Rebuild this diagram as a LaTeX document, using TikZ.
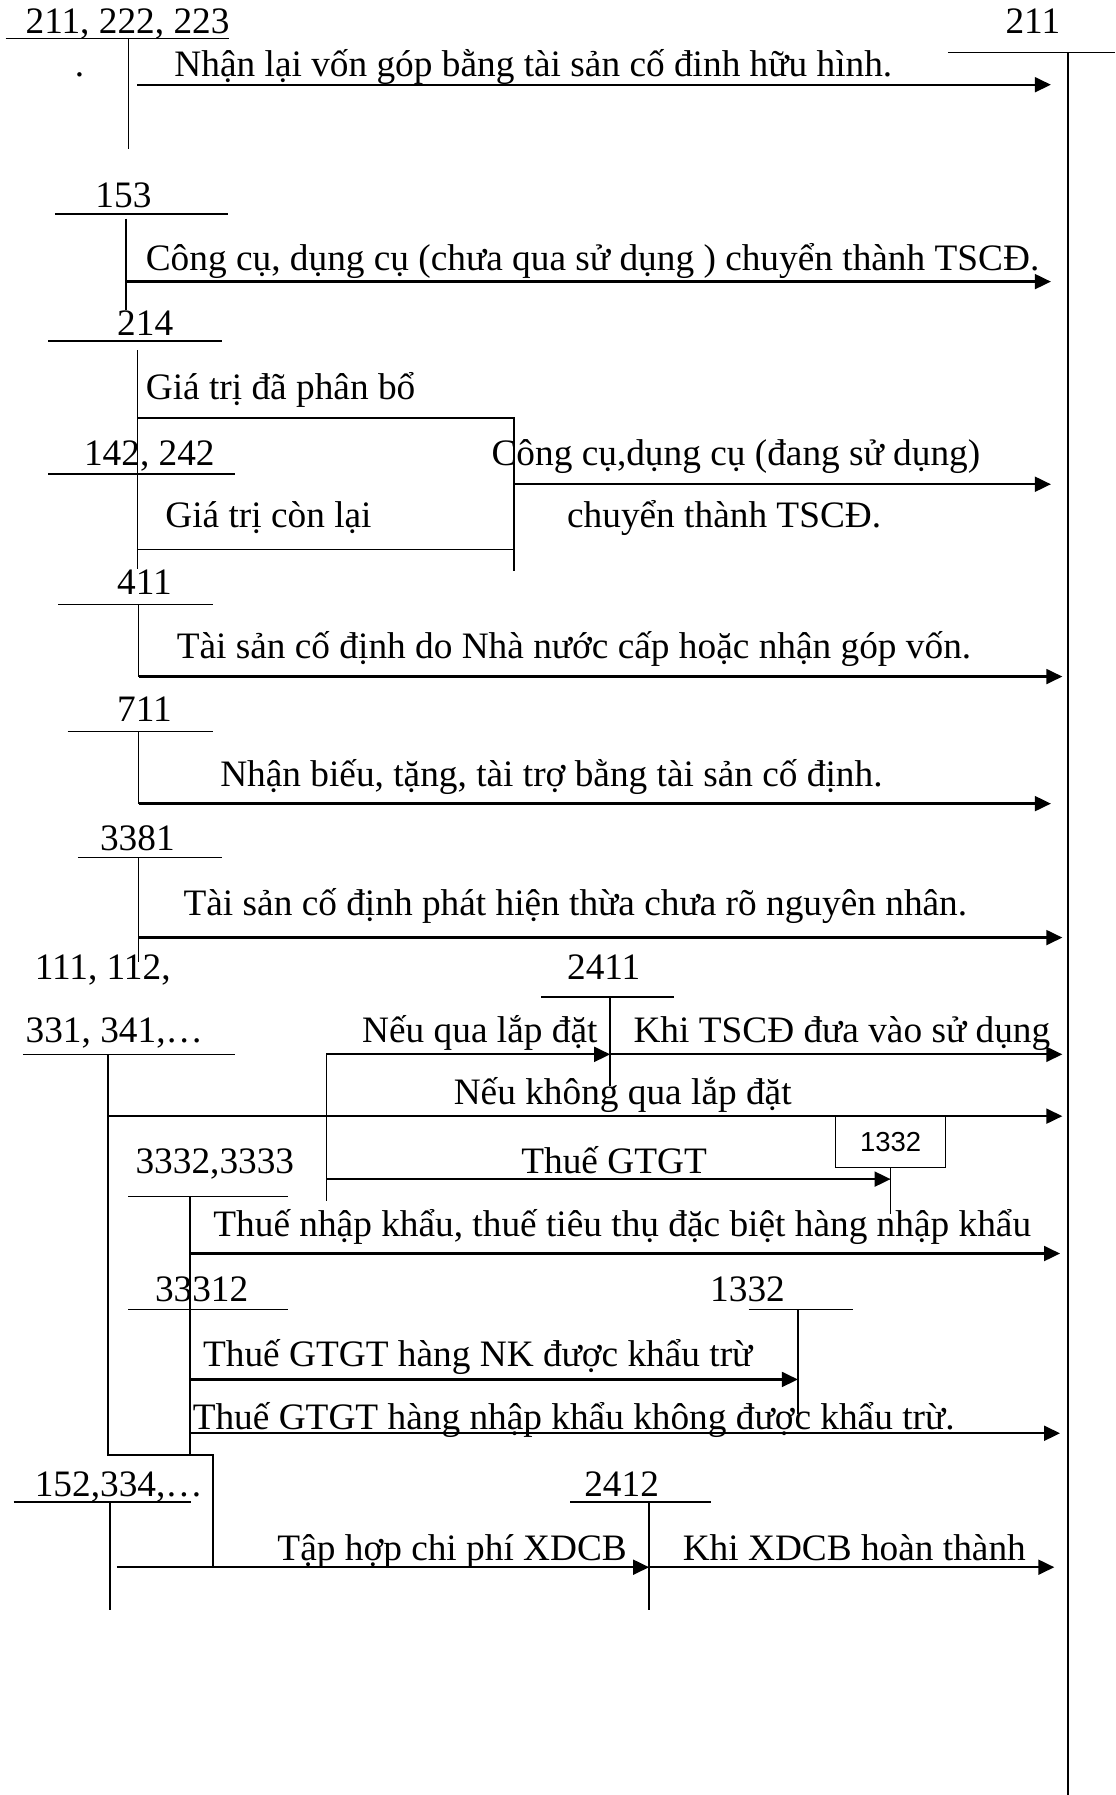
\documentclass[tikz,border=0pt]{standalone}
\usepackage{fontspec}
\setmainfont{Liberation Serif}
\newfontfamily\boxsans{Liberation Sans}
\usetikzlibrary{arrows.meta, positioning}

\begin{document}
\begin{tikzpicture}[
    x=0.5pt, y=-0.5pt,
    txt/.style={anchor=base west, inner sep=0pt, font=\fontsize{16.3}{19}\selectfont},
    acc/.style={txt},
    tline/.style={line width=0.6pt},
    arr/.style={-{Triangle[length=7pt, width=6.5pt]}, line width=1pt},
    boxacc/.style={rectangle, draw, line width=0.6pt, minimum width=48pt, minimum height=22.25pt, inner sep=0pt, font=\boxsans\fontsize{12}{14}\selectfont},
  ]
    \useasboundingbox (0,0) rectangle (974,1568);

    % account names
    \node[acc] (a211L) at (22,29) {211, 222, 223};
    \node[acc] (dot) at (65,67) {.};
    \node[acc] (a211R) at (878,29) {211};
    \node[acc] (a153) at (83,181) {153};
    \node[acc] (a214) at (102,293) {214};
    \node[acc] (a142) at (73,407) {142, 242};
    \node[acc] (a411) at (102,519) {411};
    \node[acc] (a711) at (102,630) {711};
    \node[acc] (a3381) at (87,743) {3381};
    \node[acc] (a111) at (30,856) {111, 112,};
    \node[acc] (a2411) at (495,856) {2411};
    \node[acc] (a331) at (22,911) {331, 341,…};
    \node[acc] (a3332) at (118,1025) {3332,3333};
    \node[acc] (a33312) at (135,1137) {33312};
    \node[acc] (a1332) at (620,1137) {1332};
    \node[acc] (a152) at (30,1307) {152,334,…};
    \node[acc] (a2412) at (510,1307) {2412};
    \node[boxacc] (b1332) at (778,997.75) {1332};

    % texts on the arrows
    \node[txt] (t1) at (152,67) {Nhận lại vốn góp bằng tài sản cố đinh hữu hình.};
    \node[txt] (t2) at (127,236) {Công cụ, dụng cụ (chưa qua sử dụng ) chuyển thành TSCĐ.};
    \node[txt] (t3) at (127,349) {Giá trị đã phân bổ};
    \node[txt] (t4) at (429,407) {Công cụ,dụng cụ (đang sử dụng)};
    \node[txt] (t5) at (144,461) {Giá trị còn lại};
    \node[txt] (t6) at (495,461) {chuyển thành TSCĐ.};
    \node[txt] (t7) at (154,575) {Tài sản cố định do Nhà nước cấp hoặc nhận góp vốn.};
    \node[txt] (t8) at (192,687) {Nhận biếu, tặng, tài trợ bằng tài sản cố định.};
    \node[txt] (t9) at (160,800) {Tài sản cố định phát hiện thừa chưa rõ nguyên nhân.};
    \node[txt] (t10) at (316,911) {Nếu qua lắp đặt};
    \node[txt] (t11) at (553,911) {Khi TSCĐ đưa vào sử dụng};
    \node[txt] (t12) at (396,965) {Nếu không qua lắp đặt};
    \node[txt] (t13) at (455,1025) {Thuế GTGT};
    \node[txt] (t14) at (186,1080) {Thuế nhập khẩu, thuế tiêu thụ đặc biệt hàng nhập khẩu};
    \node[txt] (t15) at (177,1194) {Thuế GTGT hàng NK được khẩu trừ};
    \node[txt] (t16) at (168,1249) {Thuế GTGT hàng nhập khẩu không được khẩu trừ.};
    \node[txt] (t17) at (242,1363) {Tập hợp chi phí XDCB};
    \node[txt] (t18) at (596,1363) {Khi XDCB hoàn thành};

    % T accounts
    \draw[tline] (5,33.5) -- (200,33.5) (112,33.5) -- (112,130);
    \draw[tline] (828,46) -- (974,46) (933,46) coordinate (k211) -- (933,1568);
    \draw[tline] (48,187) -- (199,187) (110,191) -- (110,271);
    \draw[tline] (42,298) -- (194,298) (120,306) -- (120,414);
    \draw[tline] (42,414) -- (205,414) (120,414) -- (120,497);
    \draw[tline] (120,365) -- (449,365) coordinate (k142) -- (449,499) (120,480) -- (449,480);
    \draw[tline] (51,528) -- (186,528) (121,528) -- (121,591);
    \draw[tline] (59,639) -- (186,639) (121,639) -- (121,702);
    \draw[tline] (68,749) -- (194,749) (121,749) -- (121,840);
    \draw[tline] (20,921) -- (205,921) (94.5,921) -- (94.5,1271) -- (186,1271) -- (186,1369);
    \draw[tline] (473,871) -- (589,871) (533,871) coordinate (k2411) -- (533,949);
    \draw[tline] (285,921) coordinate (k1) -- (285,1049);
    \draw[tline] (112,1045) -- (252,1045) (166,1045) -- (166,1271);
    \draw[tline] (112,1144) -- (252,1144);
    \draw[tline] (654,1144) -- (745,1144) (697,1144) -- (697,1235);
    \draw[tline] (b1332.south) -- ++(0,40);
    \draw[tline] (12,1312) -- (167,1312) (96,1312) -- (96,1406);
    \draw[tline] (498,1312) -- (621,1312) (567,1312) -- (567,1406);

    % entries
    \coordinate (s1) at (120,74);    \coordinate (e1) at (918,74);
    \coordinate (s2) at (110,246);   \coordinate (e2) at (918,246);
    \coordinate (s3) at (449,423);   \coordinate (e3) at (918,423);
    \coordinate (s4) at (121,591);   \coordinate (e4) at (928,591);
    \coordinate (s5) at (121,702);   \coordinate (e5) at (918,702);
    \coordinate (s6) at (121,819);   \coordinate (e6) at (928,819);
    \coordinate (s7) at (285,921);   \coordinate (m7) at (533,921);   \coordinate (e7) at (928,921);
    \coordinate (s8) at (94.5,975);  \coordinate (e8) at (928,975);
    \coordinate (s9) at (285,1030);  \coordinate (e9) at (b1332.south |- s9);
    \coordinate (s10) at (166,1095); \coordinate (e10) at (926,1095);
    \coordinate (s11) at (166,1205); \coordinate (e11) at (697,1205);
    \coordinate (s12) at (166,1252); \coordinate (e12) at (926,1252);
    \coordinate (s13) at (102,1369); \coordinate (m13) at (567,1369); \coordinate (e13) at (921,1369);

    \draw[arr] (s1) -- (e1);
    \draw[arr] (s2) -- (e2);
    \draw[arr] (s3) -- (e3);
    \draw[arr] (s4) -- (e4);
    \draw[arr] (s5) -- (e5);
    \draw[arr] (s6) -- (e6);
    \draw[arr] (s7) -- (m7);
    \draw[arr] (m7) -- (e7);
    \draw[arr] (s8) -- (e8);
    \draw[arr] (s9) -- (e9);
    \draw[arr] (s10) -- (e10);
    \draw[arr] (s11) -- (e11);
    \draw[arr] (s12) -- (e12);
    \draw[arr] (s13) -- (m13);
    \draw[arr] (m13) -- (e13);
  \end{tikzpicture}
\end{document}
